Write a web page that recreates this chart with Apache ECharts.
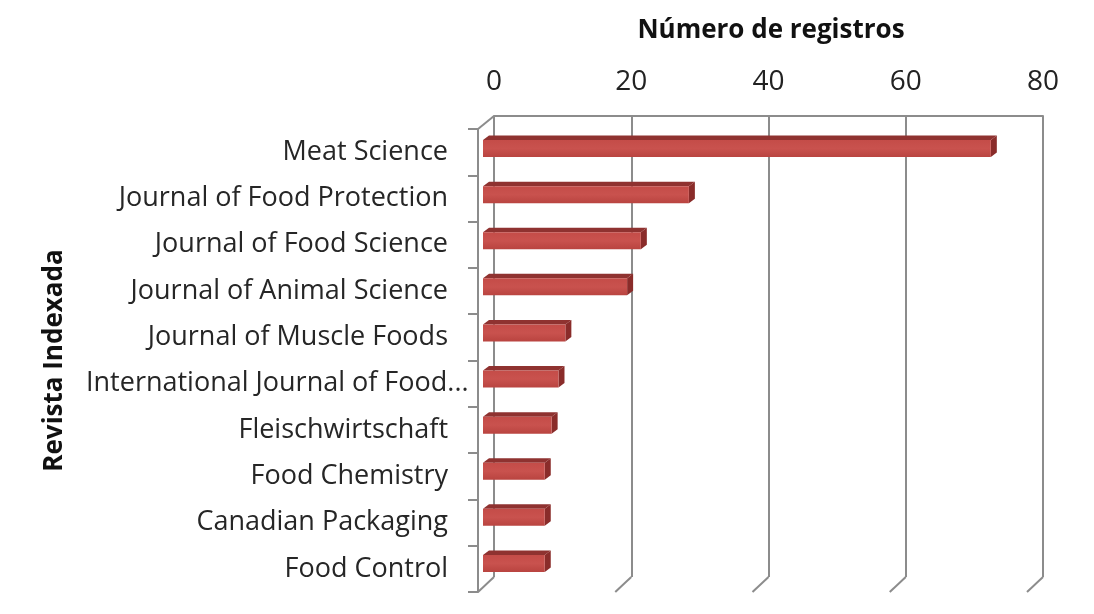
<!DOCTYPE html>
<html>
<head>
<meta charset="UTF-8">
<title>Número de registros</title>
<script src="https://cdn.jsdelivr.net/npm/echarts@6/dist/echarts.min.js"></script>
<style>
  html, body { margin: 0; padding: 0; background: #fff; }
  #chart { width: 1094px; height: 614px; }
</style>
</head>
<body>
<div id="chart"></div>
<script type="text/javascript">
// datos
var revistas = [
  'Meat Science',
  'Journal of Food Protection',
  'Journal of Food Science',
  'Journal of Animal Science',
  'Journal of Muscle Foods',
  'International Journal of Food...',
  'Fleischwirtschaft',
  'Food Chemistry',
  'Canadian Packaging',
  'Food Control'
];
var registros = [74, 30, 23, 21, 12, 11, 10, 9, 9, 9];
var marcas = [0, 20, 40, 60, 80];

// profundidad 3D (px)
var DX = -16, DY = 14;
var gris = '#8c8c8c';
var fuente = 'Open Sans';

var chart = echarts.init(document.getElementById('chart'));

var barData = registros.map(function (v, i) { return [v, i]; });

chart.setOption({
  animation: false,
  backgroundColor: '#ffffff',
  title: {
    text: 'Número de registros',
    left: 766,
    top: 13,
    textAlign: 'center',
    textStyle: { fontFamily: fuente, fontSize: 26, fontWeight: 'bold', color: '#111' }
  },
  grid: [
    // pared del fondo
    { left: 494, right: 51, top: 116, bottom: 37 },
    // plano frontal
    { left: 478, right: 67, top: 129, bottom: 22 }
  ],
  xAxis: [{
    gridIndex: 0,
    type: 'value',
    position: 'top',
    min: 0, max: 80, interval: 20,
    axisLine: { show: true, lineStyle: { color: gris, width: 2 } },
    axisTick: { show: false },
    axisLabel: { margin: 20, fontFamily: fuente, fontSize: 28, color: '#222' },
    splitLine: { show: true, lineStyle: { color: gris, width: 2 } }
  }, {
    gridIndex: 1,
    type: 'value',
    min: 0, max: 80,
    show: false
  }],
  yAxis: [{
    gridIndex: 0,
    type: 'category',
    inverse: true,
    data: revistas,
    show: false
  }, {
    gridIndex: 1,
    type: 'category',
    inverse: true,
    data: revistas,
    axisLine: { show: true, lineStyle: { color: gris, width: 2 } },
    axisTick: { show: true, length: 10, lineStyle: { color: gris, width: 2 } },
    axisLabel: {
      margin: 30, fontFamily: fuente, fontSize: 27, color: '#262626',
      formatter: function (v) {
        return v.indexOf('...') > 0 ? '{w|' + v + '}' : v;
      },
      rich: {
        w: { width: 362, align: 'left', fontFamily: fuente, fontSize: 27, color: '#262626' }
      }
    },
    name: 'Revista Indexada',
    nameLocation: 'middle',
    nameGap: 410,
    nameTextStyle: { fontFamily: fuente, fontSize: 26, fontWeight: 'bold', color: '#111' }
  }],
  series: [{
    // suelo y esquina: diagonales de la rejilla
    type: 'custom',
    xAxisIndex: 0,
    yAxisIndex: 0,
    data: marcas.map(function (m) { return [m, 0]; }),
    encode: { x: 0, y: 1 },
    z: 1,
    silent: true,
    renderItem: function (params, api) {
      var cs = params.coordSys;
      var x = api.coord([api.value(0), 0])[0];
      var yb = cs.y + cs.height;
      var children = [{
        type: 'line',
        shape: { x1: x, y1: yb, x2: x + DX, y2: yb + DY + 1 },
        style: { stroke: gris, lineWidth: 2 }
      }];
      if (api.value(0) === 0) {
        children.push({
          type: 'line',
          shape: { x1: x, y1: cs.y, x2: x + DX, y2: cs.y + DY - 1 },
          style: { stroke: gris, lineWidth: 2 }
        });
      }
      return { type: 'group', children: children };
    }
  }, {
    name: 'Número de registros',
    type: 'custom',
    xAxisIndex: 0,
    yAxisIndex: 0,
    data: barData,
    encode: { x: 0, y: 1 },
    z: 5,
    renderItem: function (params, api) {
      var v = api.value(0), c = api.value(1);
      var p0 = api.coord([0, c]);
      var p1 = api.coord([v, c]);
      var h = 17, bx = 6, by = -4.5;
      var x0 = p0[0] - 11, x1 = p1[0] - 11;
      var yc = p0[1] + 9.5;
      var t = yc - h / 2, b = yc + h / 2;
      return {
        type: 'group',
        children: [{
          type: 'polygon',
          shape: { points: [[x0, t], [x1, t], [x1 + bx, t + by], [x0 + bx, t + by]] },
          style: { fill: '#8f3230' }
        }, {
          type: 'polygon',
          shape: { points: [[x1, t], [x1 + bx, t + by], [x1 + bx, b + by], [x1, b]] },
          style: { fill: '#8a2c2a' }
        }, {
          type: 'rect',
          shape: { x: x0, y: t, width: x1 - x0, height: h },
          style: {
            fill: new echarts.graphic.LinearGradient(0, 0, 0, 1, [
              { offset: 0, color: '#c44c48' },
              { offset: 0.5, color: '#c9524e' },
              { offset: 1, color: '#b94440' }
            ])
          }
        }]
      };
    }
  }]
});
</script>
</body>
</html>
